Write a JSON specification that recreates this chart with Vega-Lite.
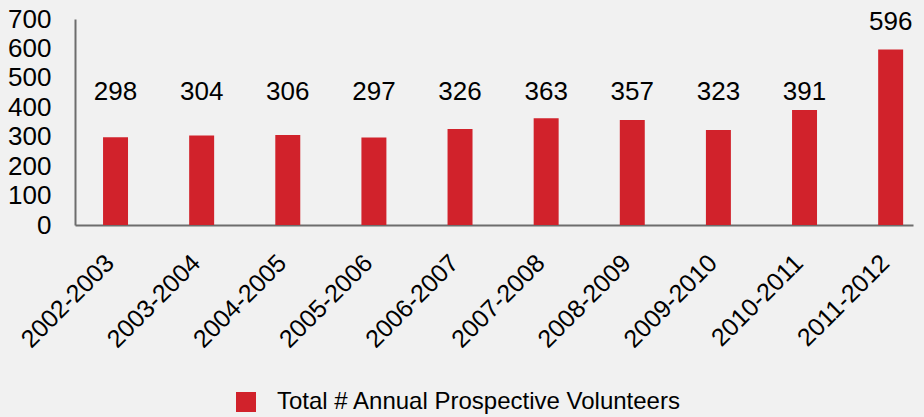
{
  "$schema": "https://vega.github.io/schema/vega-lite/v6.json",
  "autosize": {"type": "none"},
  "padding": {"left": 75, "top": 19, "right": 11, "bottom": 192},
  "width": 838,
  "height": 206,
  "background": "#f1f1f1",
  "config": {
    "view": {"stroke": null},
    "font": "Liberation Sans",
    "text": {"font": "Liberation Sans"},
    "axisY": {
      "labelOverlap": false,
      "labelBound": false,
      "labelFlush": false,
      "grid": false,
      "ticks": false,
      "labelFontSize": 26,
      "labelColor": "#000000",
      "labelPadding": 24,
      "domainColor": "#6d6d6d",
      "domainWidth": 2
    }
  },
  "data": {
    "values": [
      {"year": "2002-2003", "value": 298, "series": "Total # Annual Prospective Volunteers"},
      {"year": "2003-2004", "value": 304, "series": "Total # Annual Prospective Volunteers"},
      {"year": "2004-2005", "value": 306, "series": "Total # Annual Prospective Volunteers"},
      {"year": "2005-2006", "value": 297, "series": "Total # Annual Prospective Volunteers"},
      {"year": "2006-2007", "value": 326, "series": "Total # Annual Prospective Volunteers"},
      {"year": "2007-2008", "value": 363, "series": "Total # Annual Prospective Volunteers"},
      {"year": "2008-2009", "value": 357, "series": "Total # Annual Prospective Volunteers"},
      {"year": "2009-2010", "value": 323, "series": "Total # Annual Prospective Volunteers"},
      {"year": "2010-2011", "value": 391, "series": "Total # Annual Prospective Volunteers"},
      {"year": "2011-2012", "value": 596, "series": "Total # Annual Prospective Volunteers"}
    ]
  },
  "encoding": {
    "x": {
      "field": "year",
      "type": "nominal",
      "sort": null,
      "scale": {"paddingInner": 0.71, "paddingOuter": 0.22, "align": 0.74},
      "axis": {
        "title": null,
        "labelAngle": -45,
        "labelAlign": "right",
        "labelBaseline": "top",
        "labelFontSize": 25,
        "labelColor": "#000000",
        "labelPadding": 25,
        "labelOffset": -14,
        "labelOverlap": false,
        "labelLimit": 0,
        "ticks": false,
        "domainColor": "#6d6d6d",
        "domainWidth": 2
      }
    }
  },
  "layer": [
    {
      "mark": {"type": "bar"},
      "encoding": {
        "y": {
          "field": "value",
          "type": "quantitative",
          "scale": {"domain": [0, 700], "nice": false},
          "axis": {"title": null, "values": [0, 100, 200, 300, 400, 500, 600, 700], "labelOverlap": false}
        },
        "color": {
          "field": "series",
          "type": "nominal",
          "scale": {"range": ["#d1222b"]},
          "legend": {
            "title": null,
            "orient": "none",
            "legendX": 159,
            "legendY": 371,
            "symbolType": "square",
            "symbolSize": 400,
            "symbolStrokeWidth": 0,
            "labelFontSize": 24,
            "labelLimit": 0,
            "labelColor": "#000000",
            "labelOffset": 19
          }
        }
      }
    },
    {
      "transform": [{"filter": "datum.value < 500"}],
      "mark": {"type": "text", "fontSize": 26, "baseline": "alphabetic", "color": "#000000"},
      "encoding": {
        "y": {"datum": 425, "type": "quantitative", "axis": {"title": null, "values": [0, 100, 200, 300, 400, 500, 600, 700], "labelOverlap": false}},
        "text": {"field": "value", "type": "quantitative"}
      }
    },
    {
      "transform": [{"filter": "datum.value >= 500"}],
      "mark": {"type": "text", "fontSize": 26, "baseline": "alphabetic", "dy": -20, "color": "#000000"},
      "encoding": {
        "y": {"field": "value", "type": "quantitative", "axis": {"title": null, "values": [0, 100, 200, 300, 400, 500, 600, 700], "labelOverlap": false}},
        "text": {"field": "value", "type": "quantitative"}
      }
    }
  ]
}
